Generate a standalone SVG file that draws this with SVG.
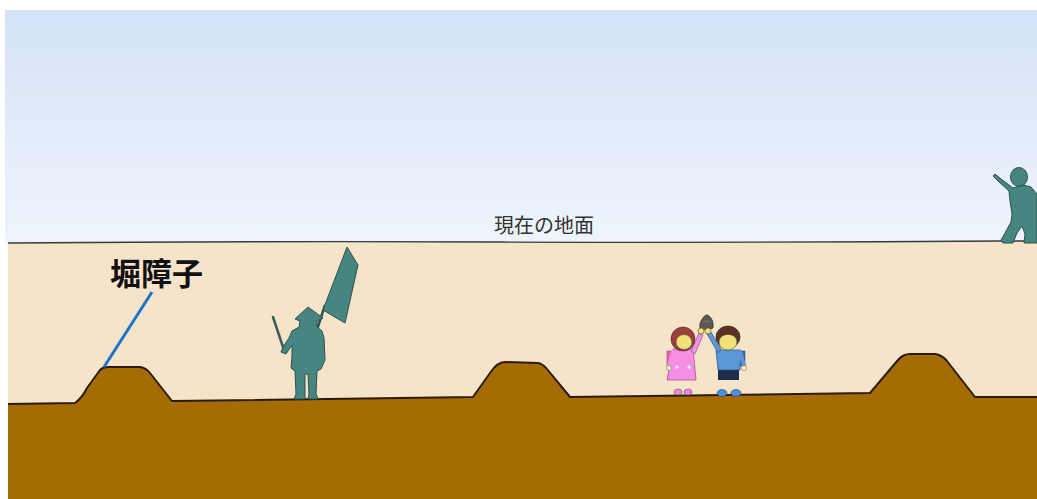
<svg xmlns="http://www.w3.org/2000/svg" width="1037" height="499" viewBox="0 0 1037 499">
  <defs>
    <linearGradient id="sky" x1="0" y1="0" x2="0" y2="1">
      <stop offset="0" stop-color="#d3e2f7"/>
      <stop offset="1" stop-color="#eff4fb"/>
    </linearGradient>
    <style>
      .soil { fill: #a66c04; }
      .sand { fill: #f5e4c9; }
      .profile { fill: none; stroke: #2b1b0c; stroke-width: 2; stroke-linejoin: round; }
      .figure { fill: #468580; stroke: #2c524f; stroke-width: 1; stroke-linejoin: round; }
      .label { font-family: "Noto Sans CJK JP", "Noto Sans", sans-serif; }
      .skin { fill: #efe27c; stroke: #5a4a2a; stroke-width: 0.6; }
      .leg { stroke: #f3e6cf; stroke-width: 3; stroke-linecap: round; }
    </style>
  </defs>

  <!-- sky above the present ground surface -->
  <rect x="5" y="10" width="1032" height="234" fill="url(#sky)"/>

  <!-- buried layer (sand) -->
  <path class="sand" d="M8,243 L1037,241 L1037,397 L975,397 L947,361 Q942,355 935,354 L910,354 Q903,354 898,360 L870,393 L570,397 L547,369 Q543,364 538,363 L505,362 Q497,362 490,373 L473,397 L172,401 L150,373 Q146,368 140,367 L108,367 Q103,367 100,370 L87,388 Q82,398 75,403 L8,404 Z"/>

  <!-- old ground with moat ridges -->
  <path class="soil" d="M8,404 L75,403 Q82,398 87,388 L100,370 Q103,367 108,367 L140,367 Q146,368 150,373 L172,401 L473,397 L490,373 Q497,362 505,362 L538,363 Q543,364 547,369 L570,397 L870,393 L898,360 Q903,354 910,354 L935,354 Q942,355 947,361 L975,397 L1037,397 L1037,499 L8,499 Z"/>
  <path class="profile" d="M8,404 L75,403 Q82,398 87,388 L100,370 Q103,367 108,367 L140,367 Q146,368 150,373 L172,401 L473,397 L490,373 Q497,362 505,362 L538,363 Q543,364 547,369 L570,397 L870,393 L898,360 Q903,354 910,354 L935,354 Q942,355 947,361 L975,397 L1037,397"/>

  <!-- present ground line -->
  <path d="M8,243 Q250,241 500,242 T1000,241 L1037,241" fill="none" stroke="#3a3a3a" stroke-width="1.3"/>
  <text class="label" x="494" y="233" font-size="20" fill="#333333">現在の地面</text>

  <!-- moat-barrier label and leader -->
  <g id="label-horishoji">
    <line x1="152" y1="292" x2="104" y2="367" stroke="#1b74c9" stroke-width="3"/>
    <text class="label" x="110" y="285" font-size="31" font-weight="600" fill="#111111">堀障子</text>
  </g>

  <!-- soldier with banner -->
  <g id="soldier">
    <line x1="273" y1="317" x2="284" y2="350" stroke="#3c5a56" stroke-width="2.5" stroke-linecap="round"/>
    <line x1="325" y1="305" x2="315" y2="336" stroke="#2c524f" stroke-width="2.5"/>
    <path class="figure" d="M347,247 L358,265 L345,323 L323,310 Z"/>
    <path class="figure" d="M308,307 L295,319 L300,321 L299,327 L292,331 L289,338 L283,347 L281,352 L286,354 L292,345 L292,356 L291,368 L295,371 L296,394 L294,399 L305,399 L305,374 L308,374 L309,394 L308,399 L318,399 L316,394 L317,371 L321,369 L325,360 L324,338 L322,331 L317,327 L317,321 L323,318 Z"/>
  </g>

  <!-- children holding up a find -->
  <g id="children">
    <!-- stone -->
    <path d="M700,329 Q699,322 703,318 Q706,313 709,316 Q714,320 713,328 Q707,331 700,329 Z" fill="#5f5750" stroke="#3a332e" stroke-width="0.8"/>
    <path d="M703,322 Q706,320 710,322" fill="none" stroke="#8a817a" stroke-width="1"/>

    <!-- girl -->
    <rect x="667" y="351" width="5" height="16" fill="#e06aa8" stroke="#7a3a55" stroke-width="0.5"/>
    <line class="leg" x1="678" y1="378" x2="678" y2="390"/>
    <line class="leg" x1="687" y1="378" x2="687" y2="390"/>
    <ellipse cx="678" cy="392" rx="4" ry="3" fill="#e68ad8" stroke="#7a4a70" stroke-width="0.6"/>
    <ellipse cx="688" cy="392" rx="4" ry="3" fill="#e68ad8" stroke="#7a4a70" stroke-width="0.6"/>
    <path d="M673,349 L693,349 L696,380 L667,380 Z" fill="#f48fe4" stroke="#8a4a80" stroke-width="0.7"/>
    <circle cx="677" cy="367" r="1.5" fill="#ffffff"/>
    <circle cx="689" cy="367" r="1.5" fill="#ffffff"/>
    <path d="M691,351 L699,333 L703,335 L695,354 Z" fill="#f48fe4" stroke="#8a4a80" stroke-width="0.6"/>
    <path d="M673,352 L669,366" stroke="#f48fe4" stroke-width="4" stroke-linecap="round"/>
    <circle cx="669" cy="368" r="2.5" fill="#f7efdc" stroke="#6a5a4a" stroke-width="0.5"/>
    <circle cx="701" cy="331" r="3" class="skin"/>
    <ellipse cx="683" cy="339" rx="12" ry="12" fill="#9a3f3f" stroke="#4a2020" stroke-width="0.6"/>
    <ellipse cx="684" cy="342" rx="8" ry="7.5" class="skin"/>
    <path d="M676,336 Q683,330 692,336 L692,333 Q683,326 675,333 Z" fill="#9a3f3f"/>

    <!-- boy -->
    <rect x="740" y="351" width="5" height="15" fill="#3e6fae" stroke="#24406a" stroke-width="0.5"/>
    <line class="leg" x1="723" y1="379" x2="723" y2="390"/>
    <line class="leg" x1="734" y1="379" x2="734" y2="390"/>
    <ellipse cx="722" cy="393" rx="5" ry="3.5" fill="#4b8fd8" stroke="#244a78" stroke-width="0.6"/>
    <ellipse cx="736" cy="393" rx="5" ry="3.5" fill="#4b8fd8" stroke="#244a78" stroke-width="0.6"/>
    <rect x="718" y="368" width="21" height="12" fill="#1f2d48"/>
    <path d="M716,350 L741,350 L740,370 L718,370 Z" fill="#5b96d8" stroke="#2c4e7a" stroke-width="0.7"/>
    <path d="M718,353 L707,334 L711,332 L721,349 Z" fill="#5b96d8" stroke="#2c4e7a" stroke-width="0.6"/>
    <path d="M740,352 L744,366" stroke="#5b96d8" stroke-width="4" stroke-linecap="round"/>
    <circle cx="744" cy="368" r="2.5" fill="#f7efdc" stroke="#6a5a4a" stroke-width="0.5"/>
    <circle cx="708" cy="331" r="3" class="skin"/>
    <ellipse cx="728" cy="337" rx="12" ry="11" fill="#5a3325" stroke="#2a1810" stroke-width="0.6"/>
    <ellipse cx="728" cy="342" rx="9" ry="8" class="skin"/>
    <path d="M719,338 Q728,331 737,338 L737,334 Q728,327 719,334 Z" fill="#5a3325"/>
  </g>

  <!-- present-day figure pointing -->
  <g id="pointer">
    <ellipse class="figure" cx="1019" cy="177" rx="8.5" ry="9.5"/>
    <path class="figure" d="M1013,188 L1001,179 L995,174 L993,176 L998,181 L1009,191 L1010,201 L1012,214 L1011,222 L1005,233 L1001,240 L1003,243 L1013,243 L1017,233 L1022,226 L1025,234 L1024,243 L1037,243 L1037,194 L1031,187 L1023,185 Z"/>
  </g>
</svg>
